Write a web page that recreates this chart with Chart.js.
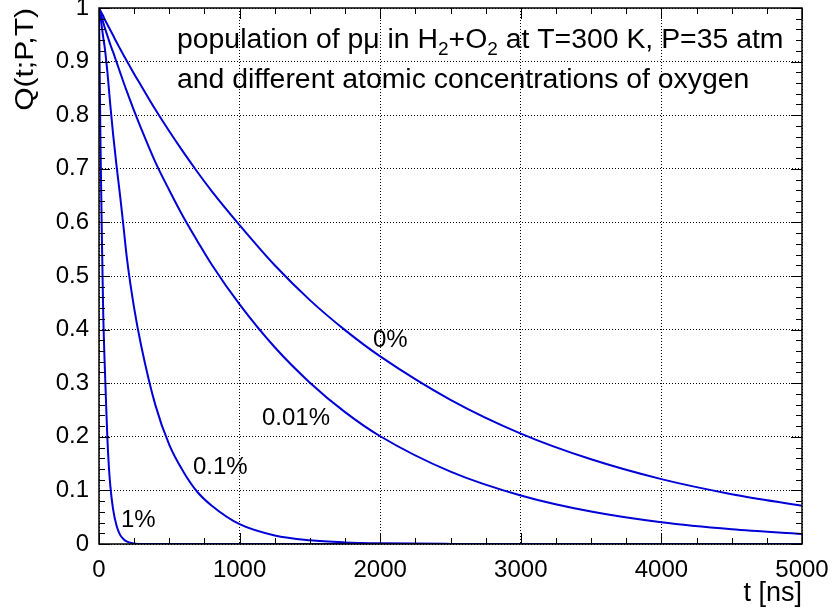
<!DOCTYPE html>
<html>
<head>
<meta charset="utf-8">
<script src="https://cdn.jsdelivr.net/npm/chart.js@4.4.1/dist/chart.umd.min.js"></script>
<style>
  html, body { margin: 0; padding: 0; background: #fff; }
  #wrap { width: 832px; height: 616px; }
</style>
</head>
<body>
<div id="wrap"><canvas id="chart1" width="832" height="616"></canvas></div>
<script>
// time grid (ns) and population Q(t;P,T) for each O concentration
const times = [0, 10, 20, 30, 40, 50, 60, 70, 80, 100, 125, 150, 175, 200, 250, 300, 400, 500, 600, 700, 800, 1000, 1250, 1500, 1750, 2000, 2500, 3000, 3500, 4000, 4500, 5000];
const q0pct = [1, 0.995, 0.99, 0.985, 0.979, 0.974, 0.969, 0.964, 0.959, 0.949, 0.936, 0.924, 0.912, 0.9, 0.877, 0.855, 0.811, 0.77, 0.731, 0.694, 0.659, 0.595, 0.52, 0.455, 0.399, 0.35, 0.269, 0.206, 0.158, 0.121, 0.093, 0.0715];
const q001pct = [1, 0.991, 0.982, 0.973, 0.964, 0.956, 0.948, 0.94, 0.932, 0.918, 0.899, 0.88, 0.861, 0.843, 0.808, 0.775, 0.713, 0.66, 0.61, 0.565, 0.522, 0.447, 0.367, 0.301, 0.246, 0.201, 0.135, 0.0905, 0.0605, 0.0405, 0.0275, 0.0187];
const q01pct = [1, 0.985, 0.965, 0.945, 0.928, 0.905, 0.88, 0.85, 0.82, 0.765, 0.705, 0.65, 0.59, 0.53, 0.44, 0.37, 0.26, 0.185, 0.135, 0.097, 0.072, 0.037, 0.016, 0.007, 0.003, 0.0013, 0.0002, 0, 0, 0, 0, 0];
const q1pct = [1, 0.76, 0.58, 0.43, 0.34, 0.265, 0.195, 0.145, 0.11, 0.065, 0.034, 0.017, 0.009, 0.0045, 0.001, 0, 0, 0, 0, 0, 0, 0, 0, 0, 0, 0, 0, 0, 0, 0, 0, 0];
const curveNames = ["0%", "0.01%", "0.1%", "1%"];

const blue = "rgb(0,0,215)";
const font = "Liberation Sans, Arial, Helvetica, sans-serif";

function pts(q) {
    return times.map(function (t, i) { return { x: t, y: q[i] }; });
}

// drop the automatic label-overflow padding so layout.padding decides the frame
function noOverflow(s) {
    s.paddingTop = 0; s.paddingBottom = 0; s.paddingLeft = 0; s.paddingRight = 0;
}

// ROOT-like frame with inner ticks, titles and curve labels
const rootDeco = {
    id: "rootDeco",
    afterDraw: function (chart) {
        const ctx = chart.ctx;
        const a = chart.chartArea;
        const xs = chart.scales.x, ys = chart.scales.y;
        ctx.save();
        ctx.strokeStyle = "#000";
        ctx.lineWidth = 1.5;
        ctx.strokeRect(a.left, a.top, a.right - a.left, a.bottom - a.top);

        ctx.lineWidth = 1;
        ctx.beginPath();
        for (let t = 0; t <= 5000; t += 250) {
            const px = Math.round(xs.getPixelForValue(t)) + 0.5;
            const len = (t % 1000 === 0) ? 11 : 6;
            ctx.moveTo(px, a.bottom); ctx.lineTo(px, a.bottom - len);
            ctx.moveTo(px, a.top); ctx.lineTo(px, a.top + len);
        }
        for (let k = 0; k <= 50; k++) {
            const py = Math.round(ys.getPixelForValue(k * 0.02)) + 0.5;
            const len = (k % 5 === 0) ? 11 : 6;
            ctx.moveTo(a.left, py); ctx.lineTo(a.left + len, py);
            ctx.moveTo(a.right, py); ctx.lineTo(a.right - len, py);
        }
        ctx.stroke();

        ctx.fillStyle = "#000";
        ctx.textBaseline = "alphabetic";
        // axis titles
        ctx.font = "27px " + font;
        ctx.textAlign = "right";
        ctx.fillText("t [ns]", a.right, 601);
        ctx.save();
        ctx.translate(33, a.top);
        ctx.rotate(-Math.PI / 2);
        ctx.scale(1.2, 1);
        ctx.font = "25px " + font;
        ctx.fillText("Q(t;P,T)", 0, 0);
        ctx.restore();

        // header text
        ctx.textAlign = "left";
        let x = 177, y = 48;
        const parts = [["population of p\u03bc in H", 0], ["2", 1], ["+O", 0], ["2", 1], [" at T=300 K, P=35 atm", 0]];
        parts.forEach(function (p) {
            ctx.font = (p[1] ? "19px " : "28.4px ") + font;
            ctx.fillText(p[0], x, y + (p[1] ? 7 : 0));
            x += ctx.measureText(p[0]).width;
        });
        ctx.font = "28.4px " + font;
        ctx.fillText("and different atomic concentrations of oxygen", 177, 88);

        // curve labels
        ctx.font = "24px " + font;
        ctx.textBaseline = "middle";
        ctx.fillText(curveNames[0], 373, 340);
        ctx.fillText(curveNames[1], 262, 418);
        ctx.fillText(curveNames[2], 193, 467);
        ctx.fillText(curveNames[3], 121, 520);
        ctx.restore();
    }
};

const ctx_chart1 = document.getElementById("chart1").getContext("2d");
const chart1 = new Chart(ctx_chart1, {
    type: "line",
    data: {
        datasets: [q0pct, q001pct, q01pct, q1pct].map(function (q, i) {
            return {
                label: curveNames[i],
                data: pts(q),
                borderColor: blue,
                borderWidth: 2,
                pointRadius: 0,
                fill: false,
                cubicInterpolationMode: "monotone"
            };
        })
    },
    options: {
        responsive: false,
        animation: false,
        layout: { padding: { left: 0, top: 8, right: 30, bottom: 0 } },
        plugins: { legend: { display: false }, tooltip: { enabled: false } },
        scales: {
            x: {
                type: "linear",
                min: 0, max: 5000,
                afterFit: function (s) { s.height = 72; noOverflow(s); },
                border: { display: false, dash: [1, 2] },
                grid: { color: "#000", lineWidth: 1, drawTicks: false },
                ticks: {
                    stepSize: 1000, padding: 12, color: "#000",
                    font: { family: font, size: 24 },
                    maxRotation: 0,
                    callback: function (v) { return String(v); }
                }
            },
            y: {
                min: 0, max: 1,
                afterFit: function (s) { s.width = 99; noOverflow(s); },
                border: { display: false, dash: [1, 2] },
                grid: { color: "#000", lineWidth: 1, drawTicks: false },
                ticks: {
                    stepSize: 0.1, padding: 10, color: "#000",
                    font: { family: font, size: 24 },
                    callback: function (v) { return String(Number(v.toFixed(2))); }
                }
            }
        }
    },
    plugins: [rootDeco]
});
</script>
</body>
</html>
